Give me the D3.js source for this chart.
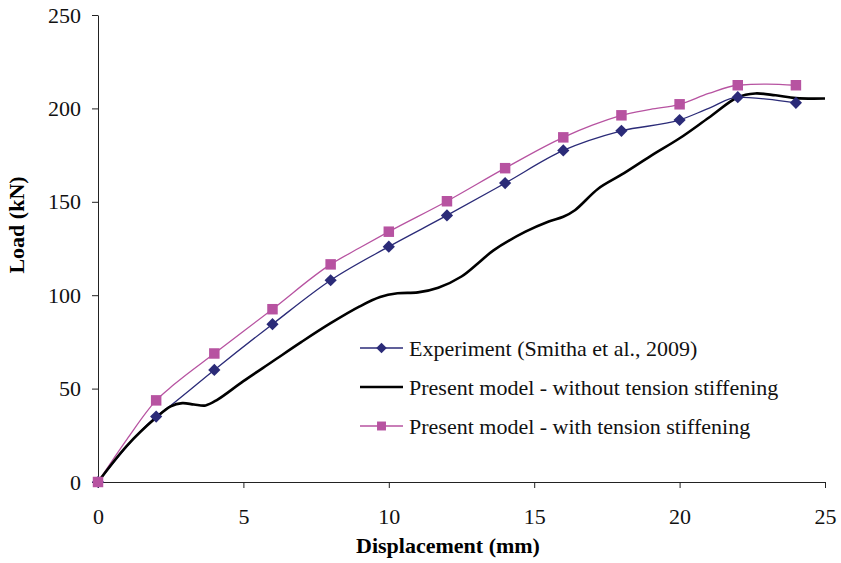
<!DOCTYPE html>
<html>
<head>
<meta charset="utf-8">
<script src="https://cdn.jsdelivr.net/npm/d3@7"></script>
<style>
  body { margin: 0; background: #fff; }
  svg { font-family: "Liberation Serif", "Times New Roman", serif; }
  .axis path, .axis line { stroke: #222; }
  .axis text { font-family: "Liberation Serif", "Times New Roman", serif; font-size: 22px; fill: #111; }
</style>
</head>
<body>
<div id="chart"></div>
<script>
// experiment (markers every 2 mm)
const expX = [0, 2, 2.5, 4, 6, 8, 10, 12, 14, 16, 18, 20, 21, 22, 23, 24];
const expY = [0, 35, 41, 60, 84.5, 108, 126, 142.7, 160, 177.5, 188, 193.8, 200, 206, 205, 203];

// present model - without tension stiffening
const noTsX = [0, 1, 2, 2.5, 2.9, 3.3, 3.7, 4.1, 5, 6, 7, 8, 9, 9.7, 10.3, 11, 11.7, 12.5, 13.1, 13.6, 14.7, 15.5, 16, 16.4, 17.2, 18, 19, 20, 21, 22, 22.6, 23.3, 24, 25];
const noTsY = [0, 19.5, 34.5, 40.5, 42.2, 41.5, 41, 44, 54, 64.5, 75, 85, 94, 99, 101, 101.5, 104, 110, 117.5, 124, 134, 139.5, 142, 145.5, 157, 164.5, 174.5, 184, 195, 206, 208, 207, 205.5, 205.3];

// present model - with tension stiffening
const tsX = [0, 1, 2, 2.6, 4, 6, 8, 9, 10, 12, 14, 16, 17, 18, 19, 20, 21, 22, 23, 24];
const tsY = [0, 23, 43.7, 52, 68.8, 92.5, 116.5, 125.4, 134, 150.3, 168, 184.5, 191, 196.3, 199.5, 202.2, 208, 212.4, 213, 212.4];

const xTicks = [0, 5, 10, 15, 20, 25];
const yTicks = [0, 50, 100, 150, 200, 250];
const legendLabels = ["Experiment (Smitha et al., 2009)", "Present model - without tension stiffening", "Present model - with tension stiffening"];

const width = 841, height = 563;
const margin = {top: 15, right: 16, bottom: 81, left: 98};

const svg = d3.select("#chart").append("svg")
  .attr("width", width)
  .attr("height", height);

const x = d3.scaleLinear().domain([0, 25]).range([margin.left, width - margin.right]);
const y = d3.scaleLinear().domain([0, 250]).range([height - margin.bottom, margin.top]);

const xAxis = d3.axisBottom(x).tickValues(xTicks).tickSize(6).tickPadding(20).tickSizeOuter(0);
const yAxis = d3.axisLeft(y).tickValues(yTicks).tickSize(6).tickPadding(11).tickSizeOuter(0);

svg.append("g").attr("class", "axis")
  .attr("transform", "translate(0," + y(0) + ")")
  .call(xAxis);
svg.append("g").attr("class", "axis")
  .attr("transform", "translate(" + x(0) + ",0)")
  .call(yAxis);

// axis titles
svg.append("text")
  .attr("x", 448).attr("y", 553)
  .attr("text-anchor", "middle")
  .style("font-size", "22px").style("font-weight", "bold")
  .text("Displacement (mm)");
svg.append("text")
  .attr("transform", "translate(24,225) rotate(-90)")
  .attr("text-anchor", "middle")
  .style("font-size", "22px").style("font-weight", "bold")
  .text("Load (kN)");

const line = d3.line()
  .x(d => x(d[0]))
  .y(d => y(d[1]))
  .curve(d3.curveMonotoneX);

const expData = expX.map((v, i) => [v, expY[i]]);
const noTsData = noTsX.map((v, i) => [v, noTsY[i]]);
const tsData = tsX.map((v, i) => [v, tsY[i]]);

const blue = "#2b2b78", pink = "#b753a1";

svg.append("path").datum(tsData)
  .attr("fill", "none").attr("stroke", pink).attr("stroke-width", 1.3)
  .attr("d", line);
svg.append("path").datum(expData)
  .attr("fill", "none").attr("stroke", blue).attr("stroke-width", 1.3)
  .attr("d", line);
svg.append("path").datum(noTsData)
  .attr("fill", "none").attr("stroke", "#000").attr("stroke-width", 2.6)
  .attr("d", line.curve(d3.curveCatmullRom));

const diamond = d3.symbol().type(d3.symbolDiamond2).size(95);
const square = d3.symbol().type(d3.symbolSquare).size(110);

svg.selectAll(".dia")
  .data(expData.filter(d => d[0] % 2 === 0))
  .enter().append("path").attr("class", "dia")
  .attr("transform", d => "translate(" + x(d[0]) + "," + y(d[1]) + ")")
  .attr("d", diamond)
  .attr("fill", blue);

svg.selectAll(".sq")
  .data(tsData.filter(d => d[0] % 2 === 0))
  .enter().append("path").attr("class", "sq")
  .attr("transform", d => "translate(" + x(d[0]) + "," + y(d[1]) + ")")
  .attr("d", square)
  .attr("fill", pink);

// legend
const leg = svg.append("g").attr("transform", "translate(360,348)");
const legStyles = [
  {color: blue, w: 1.3, sym: d3.symbol().type(d3.symbolDiamond2).size(70)},
  {color: "#000", w: 2.6, sym: null},
  {color: pink, w: 1.3, sym: d3.symbol().type(d3.symbolSquare).size(80)}
];
legendLabels.forEach((lab, i) => {
  const g = leg.append("g").attr("transform", "translate(0," + (i * 39) + ")");
  g.append("line").attr("x1", 0).attr("x2", 43).attr("y1", 0).attr("y2", 0)
    .attr("stroke", legStyles[i].color).attr("stroke-width", legStyles[i].w);
  if (legStyles[i].sym) {
    g.append("path").attr("transform", "translate(21.5,0)")
      .attr("d", legStyles[i].sym).attr("fill", legStyles[i].color);
  }
  g.append("text").attr("x", 49).attr("y", 7.5)
    .style("font-size", "22px").attr("fill", "#111")
    .text(lab);
});
</script>
</body>
</html>
